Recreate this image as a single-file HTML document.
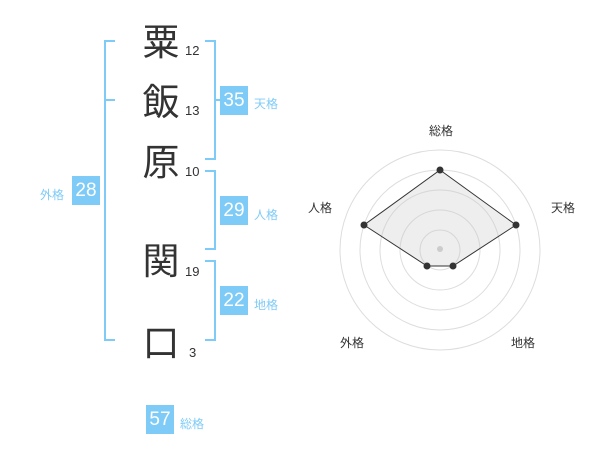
<!DOCTYPE html>
<html><head><meta charset="utf-8"><style>
body{margin:0;width:600px;height:470px;background:#fff;position:relative;font-family:"Liberation Sans","Noto Sans CJK JP",sans-serif;overflow:hidden}
.k{position:absolute;left:141px;font-size:37px;line-height:40px;color:#333;width:40px;text-align:center}
.n{position:absolute;font-size:13px;color:#333}
.b{position:absolute;background:#7fcbf7;color:#fff;font-size:19px;width:28px;height:29px;line-height:29px;text-align:center}
.l{position:absolute;font-size:12px;color:#7fcbf7}
.ln{position:absolute;background:#7fcbf7}
</style></head><body>
<div class="k" style="top:23px">粟</div><div class="n" style="left:185px;top:43px">12</div>
<div class="k" style="top:83px">飯</div><div class="n" style="left:185px;top:103px">13</div>
<div class="k" style="top:143px">原</div><div class="n" style="left:185px;top:164px">10</div>
<div class="k" style="top:242px">関</div><div class="n" style="left:185px;top:264px">19</div>
<div class="k" style="top:324px">口</div><div class="n" style="left:189px;top:345px">3</div>
<div class="ln" style="left:104px;top:40px;width:2px;height:301px"></div>
<div class="ln" style="left:104px;top:40px;width:11px;height:2px"></div>
<div class="ln" style="left:104px;top:99px;width:11px;height:2px"></div>
<div class="ln" style="left:104px;top:339px;width:11px;height:2px"></div>
<div class="ln" style="left:214px;top:40px;width:2px;height:120px"></div>
<div class="ln" style="left:205px;top:40px;width:11px;height:2px"></div>
<div class="ln" style="left:205px;top:158px;width:11px;height:2px"></div>
<div class="ln" style="left:214px;top:99px;width:7px;height:2px"></div>
<div class="ln" style="left:214px;top:170px;width:2px;height:80px"></div>
<div class="ln" style="left:205px;top:170px;width:11px;height:2px"></div>
<div class="ln" style="left:205px;top:248px;width:11px;height:2px"></div>
<div class="ln" style="left:214px;top:260px;width:2px;height:81px"></div>
<div class="ln" style="left:205px;top:260px;width:11px;height:2px"></div>
<div class="ln" style="left:205px;top:339px;width:11px;height:2px"></div>
<div class="b" style="left:220px;top:86px">35</div><div class="l" style="left:254px;top:95px">天格</div>
<div class="b" style="left:220px;top:196px">29</div><div class="l" style="left:254px;top:206px">人格</div>
<div class="b" style="left:220px;top:286px">22</div><div class="l" style="left:254px;top:296px">地格</div>
<div class="b" style="left:72px;top:176px">28</div><div class="l" style="left:40px;top:186px">外格</div>
<div class="b" style="left:146px;top:405px">57</div><div class="l" style="left:180px;top:415px">総格</div>
<svg width="600" height="470" style="position:absolute;left:0;top:0">
<g fill="none" stroke="#ddd" stroke-width="1">
<circle cx="440" cy="250" r="20"/><circle cx="440" cy="250" r="40"/><circle cx="440" cy="250" r="60"/><circle cx="440" cy="250" r="80"/><circle cx="440" cy="250" r="100"/>
</g>
<polygon points="440,170 516,225 453,266 427,266 364,225" fill="rgba(200,200,200,0.3)" stroke="#333" stroke-width="1"/>
<circle cx="440" cy="249" r="3" fill="#ccc"/>
<g fill="#333"><circle cx="440" cy="170" r="3.5"/><circle cx="516" cy="225" r="3.5"/><circle cx="453" cy="266" r="3.5"/><circle cx="427" cy="266" r="3.5"/><circle cx="364" cy="225" r="3.5"/></g>
<g font-size="12" fill="#333" text-anchor="middle" font-family="Liberation Sans,Noto Sans CJK JP,sans-serif">
<text x="441" y="135">総格</text><text x="563" y="212">天格</text><text x="320" y="212">人格</text><text x="523" y="347">地格</text><text x="352" y="347">外格</text>
</g>
</svg>
</body></html>
